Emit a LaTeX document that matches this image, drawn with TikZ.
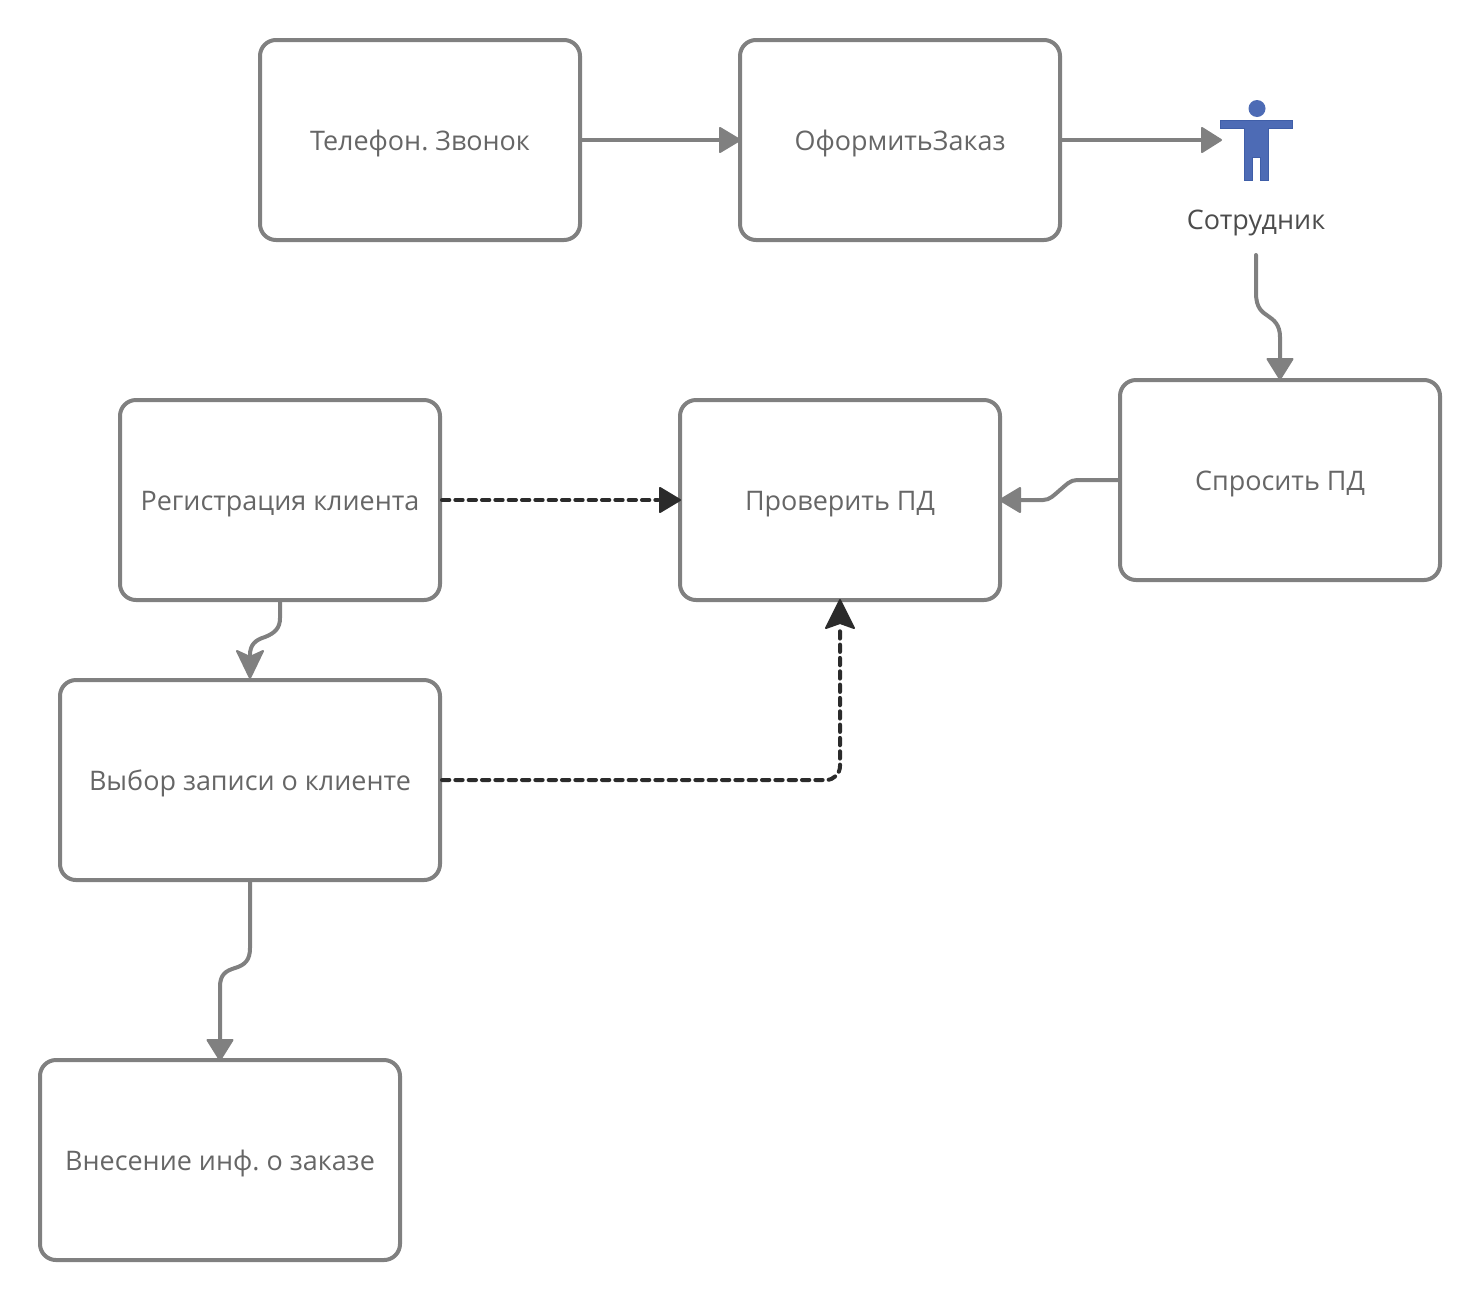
\documentclass[tikz,border=0pt]{standalone}
\usepackage{fontspec}
\setmainfont{Open Sans}
\usetikzlibrary{arrows.meta,calc}
\definecolor{boxc}{HTML}{808080}
\definecolor{txtc}{HTML}{666666}
\definecolor{darkc}{HTML}{2B2B2B}
\definecolor{bluec}{HTML}{4D6BB5}
\definecolor{blued}{HTML}{3F5EA8}
\tikzset{
  x=0.75pt,y=-0.75pt,
  lbl/.style={inner sep=0pt,text height=16pt,text depth=0pt,font=\fontsize{20.2pt}{24pt}\selectfont\frenchspacing},
  proc/.style={lbl,draw=boxc,line width=3pt,rounded corners=12pt,text=txtc,fill=white},
  conn/.style={draw=boxc,line width=3pt},
  tiptri/.style={fill=boxc,draw=boxc,line width=1.5pt,line join=round},
  dashline/.style={draw=darkc,line width=3pt,line cap=round,dash pattern=on 5.5pt off 4.5pt},
  dashtip/.style={fill=darkc,draw=darkc,line width=1.5pt,line join=round},
}
\begin{document}
\begin{tikzpicture}
\useasboundingbox (0,0) rectangle (1480,1300);
\fill[white] (0,0) rectangle (1480,1300);
\node[proc,minimum width=240pt,minimum height=150pt] (tel) at (420,140) {Телефон. Звонок};
\node[proc,minimum width=240pt,minimum height=150pt] (ofz) at (900,140) {ОформитьЗаказ};
\node[proc,minimum width=240pt,minimum height=150pt] (spr) at (1280,480) {Спросить ПД};
\node[proc,minimum width=240pt,minimum height=150pt] (prv) at (840,500) {Проверить ПД};
\node[proc,minimum width=240pt,minimum height=150pt] (reg) at (280,500) {Регистрация клиента};
\node[proc,minimum width=285pt,minimum height=150pt] (vyb) at (250,780) {Выбор записи о клиенте};
\node[proc,minimum width=270pt,minimum height=150pt] (vne) at (220,1160) {Внесение инф. о заказе};
% actor
\fill[bluec] (1257,108.5) circle[radius=8.5];
\filldraw[fill=bluec,draw=blued,line width=0.6pt] (1220.5,120.5) -- (1292.5,120.5) -- (1292.5,128.5) -- (1268.5,128.5) -- (1268.5,180.5) -- (1260.5,180.5) -- (1260.5,157) -- (1252.5,157) -- (1252.5,180.5) -- (1244.5,180.5) -- (1244.5,128.5) -- (1220.5,128.5) -- cycle;
\node[lbl,text=black!70] (sot) at (1256,218.5) {Сотрудник};
\coordinate (actin) at (1205,140);
\coordinate (sotout) at (1256,255);
% connectors
\draw[conn] (tel.east) -- ($(ofz.west)+(-18,0)$);
\filldraw[tiptri] ($(ofz.west)+(2,0)$) -- ++(-20,-12) -- ++(0,24) -- cycle;
\draw[conn] (ofz.east) -- (actin);
\filldraw[tiptri] ($(actin)+(16,0)$) -- ++(-19,-12) -- ++(0,24) -- cycle;
\draw[conn,line cap=round] (sotout) -- (1256,293) .. controls (1256,308) and (1262,312) .. (1268,316) .. controls (1274,320) and (1280,325) .. (1280,337) -- ($(spr.north)+(0,-14)$);
\filldraw[tiptri] ($(spr.north)+(0,1)$) -- ++(-12.5,-20) -- ++(25,0) -- cycle;
\draw[conn] (spr.west) -- (1077,480) .. controls (1070,480) and (1066,485) .. (1060,490) .. controls (1054,495) and (1050,500) .. (1043,500) -- ($(prv.east)+(16,0)$);
\filldraw[tiptri] ($(prv.east)+(-2,0)$) -- ++(20,-12) -- ++(0,24) -- cycle;
\draw[conn] (reg.south) -- (280,618) .. controls (280,628) and (275,633) .. (265,637) .. controls (255,640) and (250,645) .. (250,655) -- ($(vyb.north)+(0,-15)$);
\filldraw[tiptri] (vyb.north) -- ++(-13,-27) -- ++(13,6) -- ++(13,-6) -- cycle;
\draw[conn] (vyb.south) -- (250,948) .. controls (250,960) and (245,965) .. (235,968) .. controls (225,971) and (220,975) .. (220,987) -- ($(vne.north)+(0,-14)$);
\filldraw[tiptri] ($(vne.north)+(0,2)$) -- ++(-12.5,-20) -- ++(25,0) -- cycle;
% dashed
\draw[dashline] (reg.east) -- ($(prv.west)+(-20,0)$);
\filldraw[dashtip] ($(prv.west)+(2,0)$) -- ++(-20,-12) -- ++(0,24) -- cycle;
\draw[dashline] (vyb.east) -- ($(prv.south |- vyb.east)+(-14,0)$) arc[start angle=90,end angle=0,radius=14] -- ($(prv.south)+(0,28)$);
\filldraw[dashtip] ($(prv.south)+(0,-2)$) -- ++(14,28) -- ++(-14,-5) -- ++(-14,5) -- cycle;
\end{tikzpicture}
\end{document}
